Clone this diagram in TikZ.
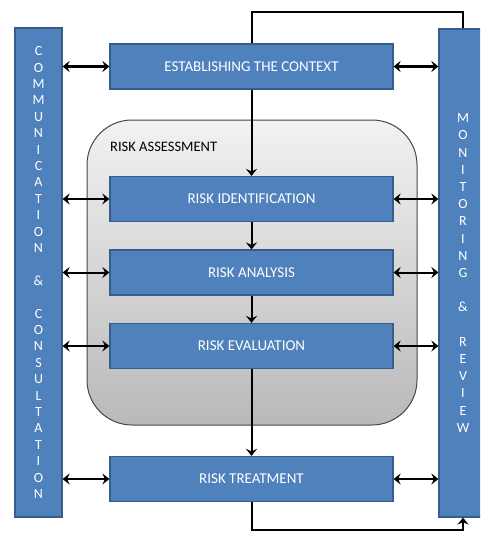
\documentclass[tikz,border=0pt]{standalone}
\usepackage{fontspec}
\setmainfont{Carlito}
\usetikzlibrary{arrows.meta}
\definecolor{boxblue}{HTML}{4F81BD}
\definecolor{boxedge}{HTML}{385D8A}
\tikzset{
  box/.style={draw=boxedge, line width=1.2pt, fill=boxblue, text=white, minimum width=283pt, minimum height=45pt, inner sep=0pt, font=\fontsize{15}{17}\selectfont},
  bar/.style={draw=boxedge, line width=1.2pt, fill=boxblue, text=white, inner sep=0pt, align=center},
  conn/.style={line width=2pt, {Stealth[length=7pt,width=11pt,inset=2.5pt]}-{Stealth[length=7pt,width=11pt,inset=2.5pt]}},
  flow/.style={line width=2pt, -{Stealth[length=7pt,width=11pt,inset=2.5pt]}},
  loop/.style={line width=2pt}
}
\begin{document}
\begin{tikzpicture}[x=1pt,y=-1pt]
\useasboundingbox (0,0) rectangle (480,535);
\clip (0,0) rectangle (480,535);
% risk assessment container
\shade[top color=gray!10, bottom color=gray!55, draw=gray!55!black, line width=1pt, rounded corners=45pt] (87,120) rectangle (417,425);
\node[anchor=west, inner sep=0pt, font=\fontsize{14.5}{16}\selectfont] (ra) at (110,147) {RISK ASSESSMENT};
% side bars
\node[bar, minimum width=47pt, minimum height=489pt, font=\fontsize{14}{16.4}\selectfont] (cc) at (38.5,272.5)
  {C\\O\\M\\M\\U\\N\\I\\C\\A\\T\\I\\O\\N\\ \\\&\\ \\C\\O\\N\\S\\U\\L\\T\\A\\T\\I\\O\\N};
\node[bar, minimum width=48pt, minimum height=488pt, font=\fontsize{14}{17.2}\selectfont] (mr) at (463,273)
  {M\\O\\N\\I\\T\\O\\R\\I\\N\\G\\ \\\&\\ \\R\\E\\V\\I\\E\\W};
% process boxes
\node[box] (ctx) at (251.5,66.5) {ESTABLISHING THE CONTEXT};
\node[box] (rid) at (251.5,199) {RISK IDENTIFICATION};
\node[box] (ran) at (251.5,272.5) {RISK ANALYSIS};
\node[box] (rev) at (251.5,346) {RISK EVALUATION};
\node[box] (rtr) at (251.5,479) {RISK TREATMENT};
% side connectors
\foreach \b in {ctx,rid,ran,rev,rtr}{
  \draw[conn] (cc.east |- \b.west) -- (\b.west);
  \draw[conn] (\b.east) -- (mr.west |- \b.east);
}
% main flow
\draw[flow] (ctx.south) -- (rid.north);
\draw[flow] (rid.south) -- (ran.north);
\draw[flow] (ran.south) -- (rev.north);
\draw[flow] (rev.south) -- (rtr.north);
% feedback loops
\coordinate (top) at (251.5,12);
\coordinate (bot) at (251.5,530);
\draw[loop] (mr.north) |- (top) -- (ctx.north);
\draw[flow] (rtr.south) -- (bot) -| (mr.south);
\end{tikzpicture}
\end{document}
